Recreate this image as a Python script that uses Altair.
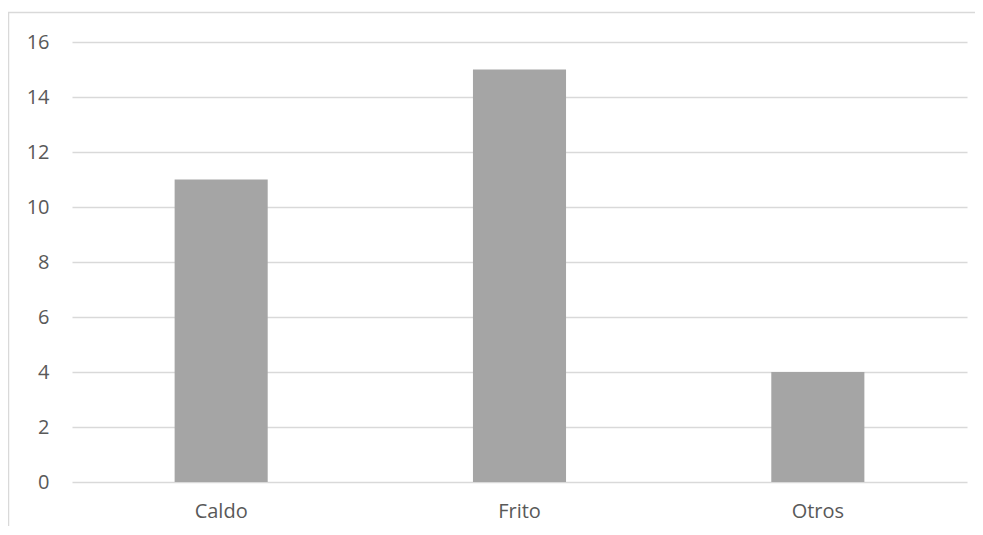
import altair as alt
import pandas as pd

categorias = ["Caldo", "Frito", "Otros"]
valores = [11, 15, 4]
ticks_y = [0, 2, 4, 6, 8, 10, 12, 14, 16]

df = pd.DataFrame({"categoria": categorias, "valor": valores})

FONT = "Open Sans"
GRID = "#d9d9d9"
TEXT = "#595959"

bars = alt.Chart(df).mark_bar(color="#a5a5a5").encode(
    x=alt.X(
        "categoria:N",
        sort=categorias,
        title=None,
        scale=alt.Scale(paddingInner=0.688, paddingOuter=0.344),
        axis=alt.Axis(
            labelAngle=0, ticks=False, domain=False, grid=False,
            labelFont=FONT, labelFontSize=20, labelColor=TEXT, labelPadding=19,
        ),
    ),
    y=alt.Y(
        "valor:Q",
        title=None,
        scale=alt.Scale(domain=[0, 16], nice=False),
        axis=alt.Axis(
            values=ticks_y, ticks=False, domain=False, grid=True,
            gridColor=GRID, gridWidth=1.3,
            labelFont=FONT, labelFontSize=20, labelColor=TEXT, labelPadding=23,
        ),
    ),
)

one = alt.Data(values=[{}])
left_border = alt.Chart(one).mark_rule(color=GRID, strokeWidth=1.5).encode(
    x=alt.value(-63.5), y=alt.value(-30), y2=alt.value(510)
)
top_border = alt.Chart(one).mark_rule(color=GRID, strokeWidth=1.5).encode(
    y=alt.value(-29.5), x=alt.value(-64), x2=alt.value(910)
)

chart = alt.layer(bars, left_border, top_border).properties(
    width=895,
    height=440,
    autosize=alt.AutoSizeParams(type="none"),
    padding={"left": 64, "top": 34, "right": 8, "bottom": 44},
).configure_view(stroke=None)

chart.save("out.html", embed_options={"renderer": "svg", "actions": False})
